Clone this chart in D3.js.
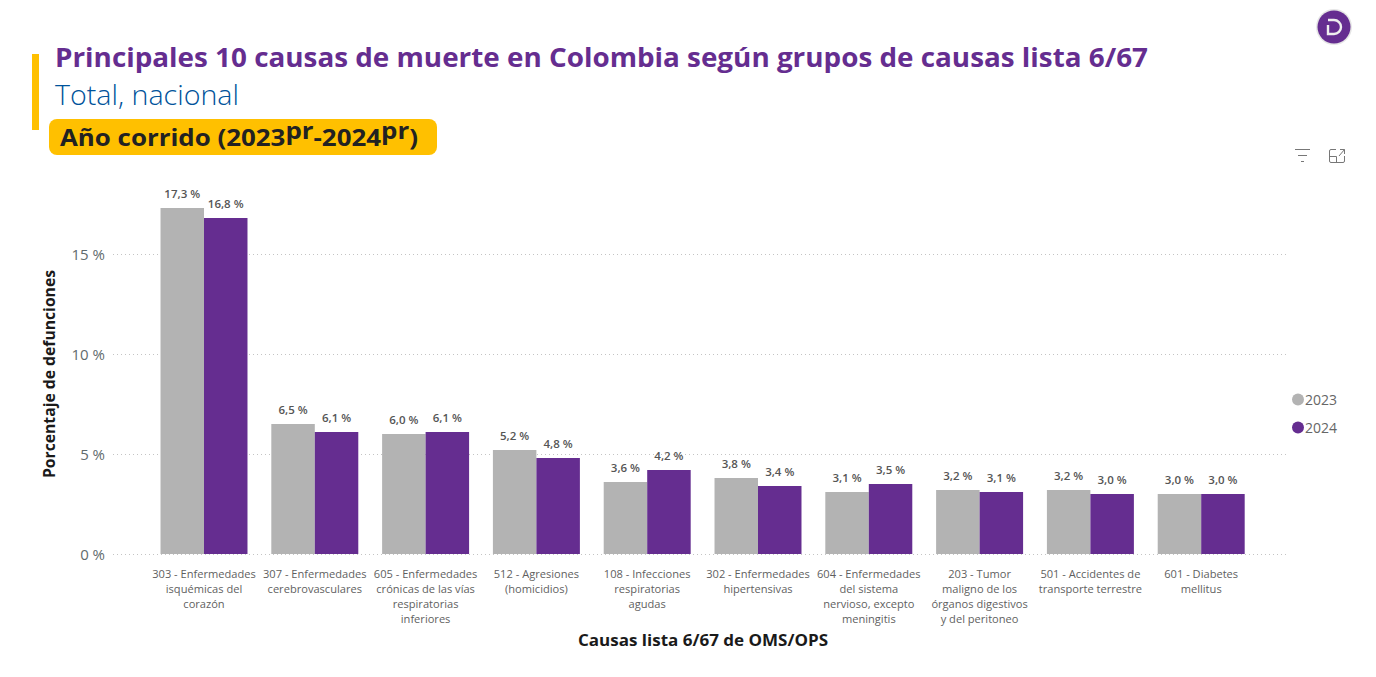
<!DOCTYPE html>
<html><head><meta charset="utf-8">
<script src="https://cdn.jsdelivr.net/npm/d3@7"></script>
<style>
html,body{margin:0;padding:0;background:#fff;overflow:hidden}
svg{display:block}
text{font-family:"Open Sans","Noto Sans",sans-serif}
</style></head><body><svg id="c" width="1376" height="677"></svg>
<script>
const categories=[
 ["303 - Enfermedades","isquémicas del","corazón"],
 ["307 - Enfermedades","cerebrovasculares"],
 ["605 - Enfermedades","crónicas de las vías","respiratorias","inferiores"],
 ["512 - Agresiones","(homicidios)"],
 ["108 - Infecciones","respiratorias","agudas"],
 ["302 - Enfermedades","hipertensivas"],
 ["604 - Enfermedades","del sistema","nervioso, excepto","meningitis"],
 ["203 - Tumor","maligno de los","órganos digestivos","y del peritoneo"],
 ["501 - Accidentes de","transporte terrestre"],
 ["601 - Diabetes","mellitus"]];
const values2023=[17.3,6.5,6.0,5.2,3.6,3.8,3.1,3.2,3.2,3.0];
const values2024=[16.8,6.1,6.1,4.8,4.2,3.4,3.5,3.1,3.0,3.0];
const years=["2023","2024"];
const yTicks=[0,5,10,15];
const colors=["#B3B3B3","#652D90"];

const svg=d3.select("#c");
const x=d3.scaleBand().domain(d3.range(categories.length)).range([148.6,1256.6]).paddingInner(0.215).paddingOuter(0.1075);
const xs=d3.scaleBand().domain(years).range([0,x.bandwidth()]);
const y=d3.scaleLinear().domain([0,17.3]).range([554,208]);
const fmt=v=>v.toFixed(1).replace(".",",")+" %";

// header
svg.append("rect").attr("x",32).attr("y",54).attr("width",7).attr("height",76).attr("fill","#FFC000");
svg.append("text").attr("x",55).attr("y",67).attr("font-size",27).attr("font-weight",700).attr("fill","#652D90")
 .attr("textLength",1093).attr("lengthAdjust","spacingAndGlyphs").text("Principales 10 causas de muerte en Colombia según grupos de causas lista 6/67");
svg.append("text").attr("x",55).attr("y",105).attr("font-size",27).attr("font-weight",300).attr("fill","#00539B")
 .attr("textLength",184).attr("lengthAdjust","spacingAndGlyphs").text("Total, nacional");
svg.append("rect").attr("x",49).attr("y",119).attr("width",388).attr("height",36).attr("rx",8).attr("fill","#FFC000");
const sub=svg.append("text").attr("x",60).attr("y",146).attr("font-size",24).attr("font-weight",700).attr("fill","#222")
 .attr("textLength",358).attr("lengthAdjust","spacingAndGlyphs");
sub.append("tspan").text("Año corrido (2023");
sub.append("tspan").attr("dy",-7).text("pr");
sub.append("tspan").attr("dy",7).text("-2024");
sub.append("tspan").attr("dy",-7).text("pr");
sub.append("tspan").attr("dy",7).text(")");

// y axis + grid
const yAxis=d3.axisLeft(y).tickValues(yTicks).tickFormat(d=>d+" %").tickSize(0).tickPadding(0);
const gy=svg.append("g").attr("transform","translate(105,0.5)").call(yAxis);
gy.select(".domain").remove();
gy.selectAll("text").attr("font-size",15).attr("fill","#5f6b6d");
svg.append("g").selectAll("line").data(yTicks).join("line")
 .attr("x1",113).attr("x2",1287).attr("y1",d=>Math.round(y(d))+.5).attr("y2",d=>Math.round(y(d))+.5)
 .attr("stroke","#c4c4c4").attr("stroke-width",1).attr("stroke-dasharray","1 3");

// bars
const series=[values2023,values2024];
series.forEach((vals,s)=>{
 const g=svg.append("g");
 g.selectAll("rect").data(vals).join("rect")
  .attr("x",(d,i)=>x(i)+xs(years[s])).attr("width",xs.bandwidth())
  .attr("y",d=>y(d)).attr("height",d=>y(0)-y(d)).attr("fill",colors[s]);
 g.selectAll("text").data(vals).join("text")
  .attr("x",(d,i)=>x(i)+xs(years[s])+xs.bandwidth()/2).attr("y",d=>y(d)-10)
  .attr("text-anchor","middle").attr("font-size",11.5).attr("font-weight",600).attr("fill","#555")
  .text(fmt);
});

// x labels
const gx=svg.append("g").selectAll("text").data(categories).join("text")
 .attr("text-anchor","middle").attr("font-size",11.1).attr("fill","#5f5f5f");
gx.each(function(lines,i){
 d3.select(this).selectAll("tspan").data(lines).join("tspan")
  .attr("x",x(i)+x.bandwidth()/2).attr("y",(d,k)=>578+k*15).text(d=>d);
});

// axis titles
svg.append("text").attr("x",703).attr("y",645.5).attr("text-anchor","middle").attr("font-size",16).attr("font-weight",700).attr("fill","#1a1a1a")
 .attr("textLength",250).attr("lengthAdjust","spacingAndGlyphs").text("Causas lista 6/67 de OMS/OPS");
svg.append("text").attr("transform","translate(55,374) rotate(-90)").attr("text-anchor","middle").attr("font-size",16).attr("font-weight",700).attr("fill","#1a1a1a")
 .attr("textLength",208).attr("lengthAdjust","spacingAndGlyphs").text("Porcentaje de defunciones");

// legend
const leg=svg.append("g").selectAll("g").data(years).join("g").attr("transform",(d,i)=>`translate(1298,${399.5+i*28})`);
leg.append("circle").attr("r",6).attr("fill",(d,i)=>colors[i]);
leg.append("text").attr("x",7).attr("y",5).attr("font-size",14).attr("fill","#666").text(d=>d);

// top icon
const logo=svg.append("g").attr("transform","translate(1334,27)");
logo.append("circle").attr("r",18).attr("fill","#000").attr("opacity",.1);
logo.append("circle").attr("r",16.5).attr("fill","#652D90");
logo.append("path").attr("d","M-6,-7H0A7,7 0 0 1 0,7H-6V-2").attr("fill","none").attr("stroke","#eee").attr("stroke-width",2.4);

// filter + focus icons
const ic=svg.append("g").attr("fill","none").attr("stroke","#777").attr("stroke-width",1);
ic.append("path").attr("d","M1295,149.5H1310M1298,155.5H1307M1301,161.5H1304");
ic.append("path").attr("d","M1336,149.5H1331A1.5,1.5 0 0 0 1329.5,151V161A1.5,1.5 0 0 0 1331,162.5H1343A1.5,1.5 0 0 0 1344.5,161V156M1329.5,156.5H1336.5V162.5M1339,156L1344.5,149.5M1340,149.5H1344.5V154");
</script></body></html>
